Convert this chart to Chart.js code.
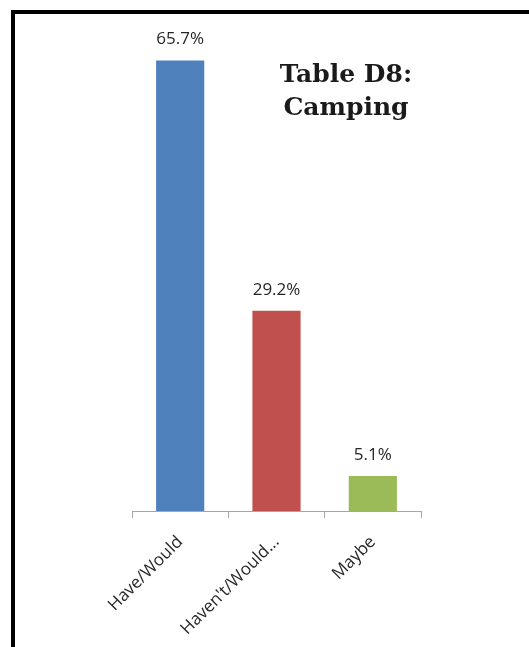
<!DOCTYPE html>
<html>
<head>
<meta charset="utf-8">
<script src="https://cdn.jsdelivr.net/npm/chart.js@4.4.1/dist/chart.umd.min.js"></script>
<style>
  html, body { margin: 0; padding: 0; background: #fff; overflow: hidden; }
  #wrap { position: relative; width: 529px; height: 647px; }
  #frame { position: absolute; left: 11px; top: 10px; right: -10px; bottom: -10px;
           border-left: 4px solid #000; border-top: 4px solid #000; pointer-events: none; }
  canvas { position: absolute; left: 0; top: 0; }
</style>
</head>
<body>
<div id="wrap">
  <canvas id="grafico" width="529" height="647"></canvas>
  <div id="frame"></div>
</div>
<script>
const categorias = ["Have/Would", "Haven't/Would...", "Maybe"];
const valores = [65.7, 29.2, 5.1];
const cores = ["#4F81BD", "#C0504D", "#9BBB59"];
const titulo = ["Table D8:", "Camping"];

// Rótulos em cima das barras + título dentro da área
const rotulosPlugin = {
    id: 'rotulos',
    afterDatasetsDraw(chart) {
        const ctx = chart.ctx;
        const meta = chart.getDatasetMeta(0);
        ctx.save();
        ctx.fillStyle = '#262626';
        ctx.font = '17px "Open Sans", sans-serif';
        ctx.textAlign = 'center';
        ctx.textBaseline = 'alphabetic';
        meta.data.forEach((bar, i) => {
            ctx.fillText(valores[i].toFixed(1) + '%', bar.x, bar.y - 16);
        });

        ctx.fillStyle = '#1a1a1a';
        ctx.font = 'bold 25px "DejaVu Serif", serif';
        ctx.textBaseline = 'middle';
        ctx.fillText(titulo[0], 346, 75);
        ctx.fillText(titulo[1], 346, 108);
        ctx.restore();
    }
};

window.onload = () => {
    const ctx = document.getElementById('grafico').getContext('2d');
    new Chart(ctx, {
        type: 'bar',
        data: {
            labels: categorias,
            datasets: [{
                data: valores,
                backgroundColor: cores,
                barPercentage: 1.0,
                categoryPercentage: 0.5
            }]
        },
        options: {
            responsive: false,
            animation: false,
            layout: { padding: { left: 132, right: 108, top: 31, bottom: 0 } },
            scales: {
                x: {
                    grid: { display: true, drawOnChartArea: false, drawTicks: true, tickLength: 7, color: '#a6a6a6', offset: true },
                    border: { display: true, color: '#a6a6a6', width: 1 },
                    ticks: { color: '#262626', font: { size: 17, family: '"Open Sans", sans-serif' }, minRotation: 45, maxRotation: 45, padding: 14 },
                    afterFit: (s) => { s.height = 647 - 511; }
                },
                y: { display: false, min: 0, max: 70 }
            },
            plugins: {
                legend: { display: false },
                tooltip: { enabled: false }
            }
        },
        plugins: [rotulosPlugin]
    });
};
</script>
</body>
</html>
